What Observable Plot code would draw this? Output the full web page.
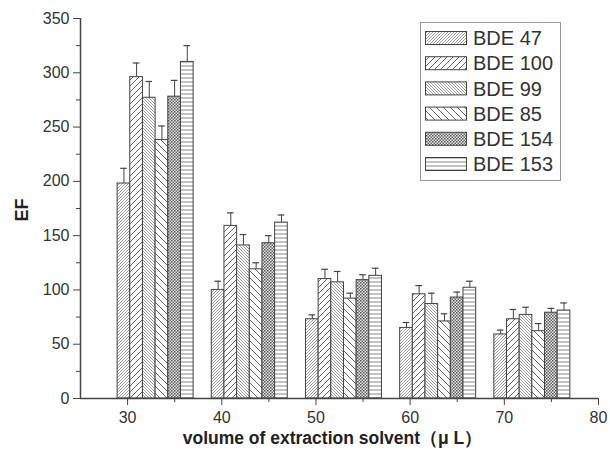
<!DOCTYPE html>
<html><head><meta charset="utf-8">
<script src="https://cdn.jsdelivr.net/npm/d3@7"></script>
<script src="https://cdn.jsdelivr.net/npm/@observablehq/plot@0.6"></script>
<style>body{margin:0;background:#fff;} #chart{width:610px;height:453px;}</style>
</head><body><div id="chart"></div>
<script>
const volumes = [30, 40, 50, 60, 70];
const series = ["BDE 47", "BDE 100", "BDE 99", "BDE 85", "BDE 154", "BDE 153"];
const bde47 = [198, 100, 73, 65, 59];
const bde100 = [296, 159, 110, 96, 73];
const bde99 = [277, 141, 107, 87, 77];
const bde85 = [238, 119, 92, 71, 62];
const bde154 = [278, 143, 109, 93, 79];
const bde153 = [310, 162, 113, 102, 81];
const err47 = [14, 8, 4, 5, 4];
const err100 = [13, 12, 9, 8, 9];
const err99 = [15, 10, 10, 10, 7];
const err85 = [13, 6, 5, 7, 7];
const err154 = [15, 7, 5, 5, 4];
const err153 = [15, 7, 7, 6, 7];
const yTicks = [0, 50, 100, 150, 200, 250, 300, 350];
const yMinor = [25, 75, 125, 175, 225, 275, 325];
const xTicks = [30, 40, 50, 60, 70, 80];
const xMinor = [35, 45, 55, 65, 75];
const xLabel = "volume of extraction solvent（μ L）";
const yLabel = "EF";

const values = [bde47, bde100, bde99, bde85, bde154, bde153];
const errors = [err47, err100, err99, err85, err154, err153];
const patternIds = ["p47", "p100", "p99", "p85", "p154", "p153"];
const patternUrls = patternIds.map(id => `url(#${id})`);

const rows = [];
volumes.forEach((v, g) => series.forEach((s, i) => rows.push({vol: v, series: s, i, value: values[i][g], err: errors[i][g]})));
const BW = 1.345, OFF = -1.06;
const x1 = d => d.vol + OFF + d.i * BW;
const x2 = d => d.vol + OFF + (d.i + 1) * BW;
const xc = d => d.vol + OFF + (d.i + 0.5) * BW;

const font = "'Liberation Sans', Arial, Helvetica, sans-serif";
const plot = Plot.plot({
  width: 610, height: 453,
  marginTop: 18, marginBottom: 55, marginLeft: 80, marginRight: 12,
  style: {fontFamily: font, fontSize: "16px", color: "#333", background: "#fff"},
  x: {domain: [25, 80]},
  y: {domain: [0, 350]},
  color: {type: "ordinal", domain: series, range: patternUrls},
  marks: [
    Plot.rectY(rows, {x1, x2, y1: 0, y2: "value", fill: "series", stroke: "#444", strokeWidth: 1}),
    Plot.ruleX(rows, {x: xc, y1: "value", y2: d => d.value + d.err, stroke: "#444", strokeWidth: 1}),
    Plot.ruleY(rows, {y: d => d.value + d.err, x1: d => xc(d) - 0.35, x2: d => xc(d) + 0.35, stroke: "#444", strokeWidth: 1.2}),
    Plot.axisY({ticks: yTicks, tickSize: 7, tickPadding: 4, label: null, fontSize: 16, stroke: "#444"}),
    Plot.axisY({ticks: yMinor, tickSize: 4, text: null, label: null, stroke: "#444"}),
    Plot.axisX({ticks: xTicks, tickSize: 7, tickPadding: 6, label: null, fontSize: 16, tickFormat: d => d, stroke: "#444"}),
    Plot.axisX({ticks: xMinor, tickSize: 4, text: null, label: null, stroke: "#444"}),
    Plot.ruleX([25], {stroke: "#444", strokeWidth: 1.5}),
    Plot.ruleY([0], {stroke: "#444", strokeWidth: 1.5}),
    Plot.text([yLabel], {frameAnchor: "left", dx: -58, dy: 13, rotate: -90, fontWeight: "bold", fontSize: 18, fill: "#222"}),
    Plot.text([xLabel], {frameAnchor: "bottom", dx: -7, dy: 45, fontWeight: "bold", fontSize: 17.5, fill: "#222"})
  ]
});

const svg = d3.select(plot);
const defs = svg.insert("defs", ":first-child");
function linePattern(id, size, d, stroke, sw) {
  const p = defs.append("pattern").attr("id", id).attr("patternUnits", "userSpaceOnUse").attr("width", size).attr("height", size);
  p.append("rect").attr("width", size).attr("height", size).attr("fill", "#fff");
  p.append("path").attr("d", d).attr("stroke", stroke).attr("stroke-width", sw).attr("fill", "none");
}
const fwd = s => `M${-s/2},${s/2} l${s},${-s} M0,${s} l${s},${-s} M${s/2},${s*1.5} l${s},${-s}`;
const bwd = s => `M${-s/2},${s/2} l${s},${s} M0,0 l${s},${s} M${s/2},${-s/2} l${s},${s}`;
linePattern("p47", 3, fwd(3), "#888", 0.8);
linePattern("p100", 6, fwd(6), "#555", 0.9);
linePattern("p99", 3, bwd(3), "#888", 0.8);
linePattern("p85", 7, bwd(7), "#555", 0.9);
{
  const p = defs.append("pattern").attr("id", "p154").attr("patternUnits", "userSpaceOnUse").attr("width", 3).attr("height", 3);
  p.append("rect").attr("width", 3).attr("height", 3).attr("fill", "#e6e6e6");
  p.append("rect").attr("width", 1.5).attr("height", 1.5).attr("fill", "#555");
  p.append("rect").attr("x", 1.5).attr("y", 1.5).attr("width", 1.5).attr("height", 1.5).attr("fill", "#666");
}
linePattern("p153", 4, "M0,2 h4", "#777", 0.9);

// legend (inside plot area, top right)
const lg = svg.append("g").attr("font-family", font).attr("text-anchor", "start");
lg.append("rect").attr("x", 420.5).attr("y", 22.5).attr("width", 140).attr("height", 158).attr("fill", "#fff").attr("stroke", "#999").attr("stroke-width", 1);
series.forEach((s, i) => {
  const cy = 38 + i * 25.2;
  lg.append("rect").attr("x", 425.5).attr("y", cy - 6.5).attr("width", 41).attr("height", 13)
    .attr("fill", patternUrls[i]).attr("stroke", "#444").attr("stroke-width", 1);
  lg.append("text").attr("x", 473).attr("y", cy).attr("dy", "0.36em").attr("text-anchor", "start").attr("font-size", 20).attr("fill", "#333").text(s);
});

document.getElementById("chart").appendChild(plot);
</script>
</body></html>
